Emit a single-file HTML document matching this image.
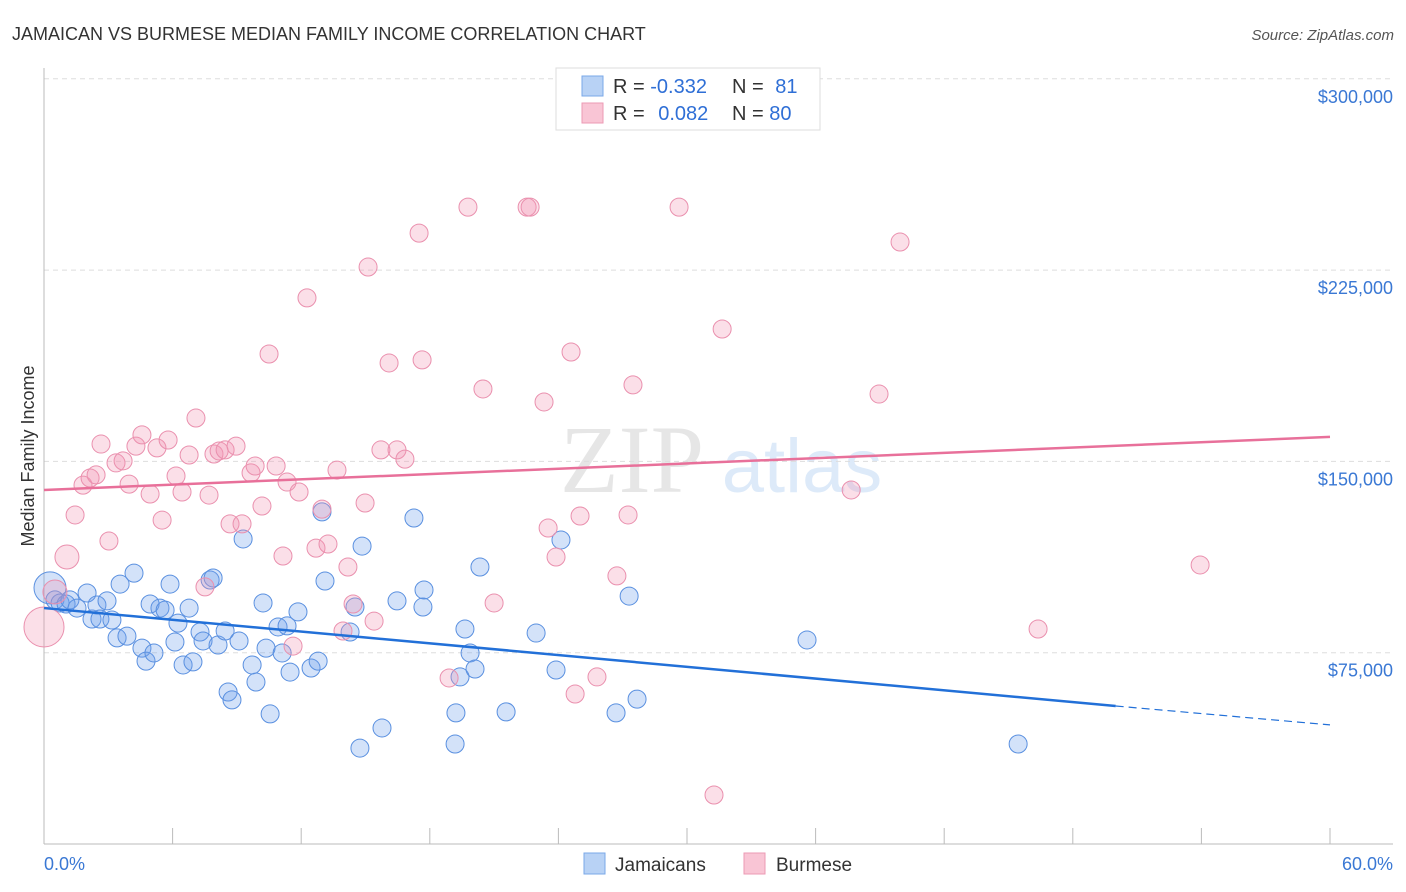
<!DOCTYPE html>
<html><head><meta charset="utf-8"><style>
body{margin:0;background:#fff;font-family:"Liberation Sans",sans-serif;}
svg{display:block}
</style></head><body>
<svg id="chart" width="1406" height="892">
<text x="12" y="40" font-size="18" fill="#333">JAMAICAN VS BURMESE MEDIAN FAMILY INCOME CORRELATION CHART</text>
<text x="1394" y="40" font-size="15" fill="#555" font-style="italic" text-anchor="end">Source: ZipAtlas.com</text>
<g opacity="0.18">
<text x="632" y="492" font-size="96" font-family="Liberation Serif,serif" fill="#777" text-anchor="middle">ZIP</text>
<text x="802" y="492" font-size="76" fill="#4a8fe0" text-anchor="middle">atlas</text>
</g>
<text transform="translate(34,456) rotate(-90)" font-size="18" fill="#333" text-anchor="middle">Median Family Income</text>
<g id="grid"></g><g id="axes"></g><g id="pts"></g><g id="lines"></g>
<g>
<rect x="556" y="68" width="264" height="62" fill="#fff" stroke="#ddd"/>
<rect x="582" y="76" width="21" height="20" fill="#b8d2f5" stroke="#7aa8e8"/>
<rect x="582" y="103" width="21" height="20" fill="#f9c5d5" stroke="#ec9ab4"/>
<text x="613" y="93" font-size="20" fill="#333">R = <tspan fill="#2f6fd6">-0.332</tspan></text>
<text x="732" y="93" font-size="20" fill="#333">N = <tspan fill="#2f6fd6" dx="6">81</tspan></text>
<text x="613" y="120" font-size="20" fill="#333">R = <tspan fill="#2f6fd6" dx="8">0.082</tspan></text>
<text x="732" y="120" font-size="20" fill="#333">N = <tspan fill="#2f6fd6">80</tspan></text>
</g>
<g>
<rect x="584" y="853" width="21" height="21" fill="#b8d2f5" stroke="#7aa8e8"/>
<text x="615" y="871" font-size="19" fill="#333">Jamaicans</text>
<rect x="744" y="853" width="21" height="21" fill="#f9c5d5" stroke="#ec9ab4"/>
<text x="776" y="871" font-size="19" fill="#333">Burmese</text>
</g>
<text x="44" y="870" font-size="18" fill="#3a78d4">0.0%</text>
<text x="1393" y="870" font-size="18" fill="#3a78d4" text-anchor="end">60.0%</text>
</svg>
<script>
const yTicks=[75000,150000,225000,300000];
const yTickLabels=["$75,000","$150,000","$225,000","$300,000"];
const xTicks=[0,6,12,18,24,30,36,42,48,54,60];
const jamX=[0.28,0.51,0.75,1.03,1.21,1.54,2.01,2.24,2.47,2.61,2.94,3.17,3.41,3.55,3.87,4.20,4.57,4.76,4.95,5.13,5.41,5.65,5.88,6.11,6.25,6.49,6.77,6.95,7.28,7.42,7.75,7.89,8.12,8.45,8.59,8.77,9.10,9.29,9.71,9.89,10.22,10.36,10.55,10.92,11.11,11.34,11.48,11.85,12.46,12.79,12.97,13.11,14.28,14.51,14.74,14.84,15.77,16.47,17.26,17.68,17.73,19.18,19.22,19.41,19.64,19.88,20.11,20.34,21.56,22.96,23.89,24.12,26.69,27.30,27.67,35.60,45.45];
const jamY=[100.4,95.7,94.5,94.1,95.7,92.5,98.4,88.2,93.7,88.2,95.3,87.8,80.8,101.9,81.5,106.2,76.8,71.7,94.1,74.9,92.5,91.7,101.9,79.2,86.6,70.2,92.5,71.4,83.1,79.6,103.5,104.3,78.0,83.5,59.6,56.5,79.6,119.6,70.2,63.5,94.5,76.8,51.0,85.1,74.9,85.5,67.4,91.0,69.0,71.7,130.2,103.1,83.1,92.9,37.6,116.8,45.5,95.3,127.8,92.9,99.6,39.2,51.4,65.5,84.3,74.9,68.6,108.6,51.8,82.7,68.2,119.2,51.4,97.2,56.8,80.0,39.2];
const burX=[0,0.51,1.07,1.45,1.82,2.15,2.43,2.66,3.03,3.36,3.69,3.97,4.29,4.57,4.95,5.51,5.27,5.79,6.16,6.44,6.77,7.09,7.51,7.70,7.93,8.17,8.45,8.68,8.96,9.24,9.66,9.85,10.17,10.50,10.83,11.15,11.34,11.62,11.90,12.27,12.69,12.97,13.25,13.67,13.95,14.18,14.42,14.98,15.12,15.40,15.72,16.10,16.47,16.84,17.50,17.64,18.90,19.78,20.48,21.00,22.54,22.68,23.33,23.52,23.89,24.59,24.78,25.01,25.80,26.73,27.25,27.48,29.63,31.26,31.64,37.66,38.96,39.94,46.38,53.94];
const burY=[85.1,98.8,112.5,129.0,140.7,143.5,144.7,156.8,118.8,149.4,150.2,141.1,156.0,160.4,137.2,127.0,155.3,158.4,144.3,138.0,152.5,167.0,100.8,136.8,152.9,154.1,154.5,125.5,156.0,125.5,145.5,148.2,132.5,192.1,148.2,112.9,141.9,77.6,138.0,214.1,116.0,131.3,117.6,146.6,83.5,108.6,94.1,133.7,226.2,87.4,154.5,188.6,154.5,150.9,239.5,189.8,65.1,249.7,178.4,94.5,249.7,249.7,173.3,123.9,112.5,192.9,58.8,128.6,65.5,105.1,129.0,180.0,249.7,19.2,201.9,138.8,176.4,236.0,84.3,109.4];
const jamTrendX=[0,50,60], jamTrendY=[92.5,54.1,46.7];
const burTrendX=[0,60], burTrendY=[138.8,159.6];
const NS='http://www.w3.org/2000/svg';
const sx=v=>44+v/60*1286;
const sy=v=>844-v/75000*191.3;
const syk=v=>sy(v*1000);
function mk(tag,attrs,parent){const e=document.createElementNS(NS,tag);for(const k in attrs)e.setAttribute(k,attrs[k]);parent.appendChild(e);return e;}
const grid=document.getElementById('grid'),axes=document.getElementById('axes'),pts=document.getElementById('pts'),lines=document.getElementById('lines');
yTicks.forEach((t,i)=>{
 const l=mk('line',{x1:44,x2:1393,y1:sy(t),y2:sy(t),stroke:'#ddd','stroke-dasharray':'5,4'},grid);
 
 
 const tx=mk('text',{x:1393,y:sy(t)+24,'font-size':18,fill:'#3a78d4','text-anchor':'end'},axes);
 tx.textContent=yTickLabels[i];
 
 
});
const ya=mk('line',{x1:44,x2:44,y1:68,y2:844,stroke:'#bbb'},axes);


const xa=mk('line',{x1:44,x2:1393,y1:844,y2:844,stroke:'#bbb'},axes);


xTicks.forEach(t=>{
 const l=mk('line',{x1:sx(t),x2:sx(t),y1:828,y2:844,stroke:'#bbb'},axes);
 
 
});
function drawPts(X,Y,fill,stroke,big,name){
 X.forEach((x,i)=>{
  const r=big[i]||9;
  const c=mk('circle',{cx:sx(x),cy:syk(Y[i]),r:r,fill:fill,stroke:stroke,'stroke-width':1},pts);
  
  
 });
}
drawPts(jamX,jamY,'rgba(110,160,235,0.3)','#5a90e0',{0:16},'jamaican-point');
drawPts(burX,burY,'rgba(242,150,180,0.3)','#ea90ae',{0:20,1:12,2:12},'burmese-point');
const jl=mk('line',{x1:sx(jamTrendX[0]),y1:syk(jamTrendY[0]),x2:sx(jamTrendX[1]),y2:syk(jamTrendY[1]),stroke:'#2270d8','stroke-width':2.5},lines);


const jd=mk('line',{x1:sx(jamTrendX[1]),y1:syk(jamTrendY[1]),x2:sx(jamTrendX[2]),y2:syk(jamTrendY[2]),stroke:'#2270d8','stroke-width':1.2,'stroke-dasharray':'8,5'},lines);


const bl=mk('line',{x1:sx(burTrendX[0]),y1:syk(burTrendY[0]),x2:sx(burTrendX[1]),y2:syk(burTrendY[1]),stroke:'#e8709a','stroke-width':2.5},lines);


</script>
</body></html>
